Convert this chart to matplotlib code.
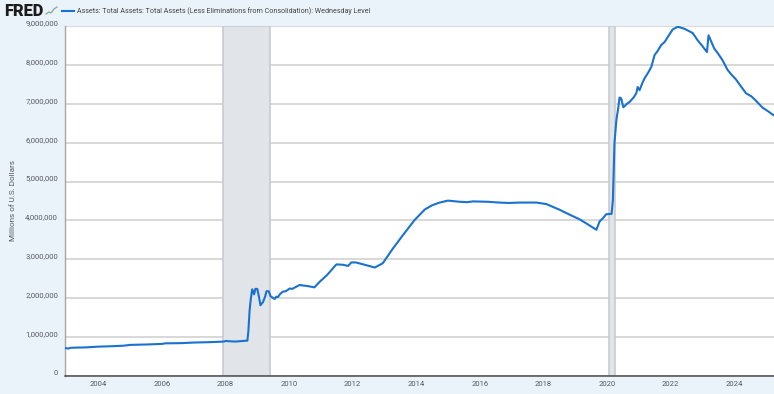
import matplotlib
matplotlib.use('Agg')
import matplotlib.pyplot as plt
from matplotlib.lines import Line2D
from matplotlib.transforms import ScaledTranslation

plt.rcParams['font.family'] = ['Roboto', 'DejaVu Sans']

title = 'Assets: Total Assets: Total Assets (Less Eliminations from Consolidation): Wednesday Level'
ylabel = 'Millions of U.S. Dollars'

# decimal years
years = [2002.96, 2003.05, 2003.12, 2003.3, 2003.6, 2004.0, 2004.4, 2004.8, 2005.0, 2005.5, 2006.0, 2006.1,
         2006.6, 2007.0, 2007.5, 2007.95, 2008.0, 2008.3, 2008.69, 2008.72, 2008.76, 2008.8, 2008.84, 2008.9,
         2008.94, 2009.0, 2009.05, 2009.1, 2009.18, 2009.25, 2009.29, 2009.36, 2009.42, 2009.55, 2009.6, 2009.65,
         2009.72, 2009.81, 2009.9, 2010.02, 2010.1, 2010.33, 2010.6, 2010.8, 2010.96, 2011.2, 2011.49, 2011.7,
         2011.86, 2011.96, 2012.1, 2012.38, 2012.7, 2012.95, 2013.27, 2013.6, 2013.95, 2014.27, 2014.5, 2014.74,
         2015.0, 2015.37, 2015.6, 2015.79, 2016.26, 2016.6, 2016.94, 2017.26, 2017.78, 2018.1, 2018.5, 2018.8,
         2019.14, 2019.4, 2019.67, 2019.77, 2019.88, 2019.98, 2020.15, 2020.19, 2020.24, 2020.3, 2020.36, 2020.4,
         2020.45, 2020.52, 2020.62, 2020.72, 2020.85, 2020.93, 2020.97, 2021.03, 2021.12, 2021.19, 2021.3, 2021.4,
         2021.5, 2021.6, 2021.71, 2021.82, 2021.92, 2022.07, 2022.23, 2022.44, 2022.7, 2022.86, 2023.0, 2023.15,
         2023.2, 2023.38, 2023.5, 2023.64, 2023.8, 2023.92, 2024.06, 2024.2, 2024.38, 2024.55, 2024.69, 2024.9,
         2025.05, 2025.24]
assets = [720000, 705000, 725000, 730000, 735000, 755000, 765000, 780000, 800000, 810000, 825000, 840000,
          845000, 860000, 870000, 885000, 900000, 885000, 910000, 1150000, 1700000, 2000000, 2230000, 2100000,
          2240000, 2240000, 2050000, 1820000, 1900000, 2050000, 2180000, 2180000, 2050000, 1980000, 2040000, 2030000,
          2110000, 2170000, 2180000, 2250000, 2240000, 2340000, 2310000, 2280000, 2420000, 2600000, 2870000, 2860000,
          2830000, 2920000, 2920000, 2860000, 2790000, 2900000, 3280000, 3640000, 4010000, 4280000, 4390000, 4460000,
          4510000, 4480000, 4470000, 4490000, 4480000, 4460000, 4450000, 4460000, 4460000, 4420000, 4280000, 4160000,
          4030000, 3900000, 3760000, 3970000, 4060000, 4160000, 4170000, 4520000, 5990000, 6580000, 6900000, 7160000,
          7140000, 6910000, 6990000, 7050000, 7170000, 7280000, 7430000, 7350000, 7540000, 7660000, 7800000, 7950000,
          8250000, 8360000, 8510000, 8590000, 8720000, 8910000, 8980000, 8930000, 8820000, 8630000, 8490000, 8330000,
          8760000, 8420000, 8290000, 8120000, 7870000, 7750000, 7630000, 7470000, 7270000, 7190000, 7080000, 6900000,
          6820000, 6710000]

recessions = [(2007.93, 2009.41), (2020.08, 2020.25)]
year_ticks = [2004, 2006, 2008, 2010, 2012, 2014, 2016, 2018, 2020, 2022, 2024]
value_ticks = [0, 1000000, 2000000, 3000000, 4000000, 5000000, 6000000, 7000000, 8000000, 9000000]

BLUE = '#1a72d0'
BG = '#eaf2fa'
TXT = '#55595e'

fig = plt.figure(figsize=(7.74, 3.94), dpi=100, facecolor=BG)
ax = fig.add_axes([65 / 774, 1 - 376 / 394, (774 - 65) / 774, 350 / 394])

for start, end in recessions:
    ax.axvspan(start, end, facecolor='#e1e5ea', edgecolor='#c8ccd0', linewidth=1.2, zorder=1)

ax.plot(years, assets, color=BLUE, linewidth=1.5, zorder=3)

ax.set_xlim(2002.95, 2025.26)
ax.set_ylim(0, 9000000)
ax.set_xticks(year_ticks)
ax.set_yticks(value_ticks)
ax.set_yticklabels([f'{v:,}' for v in value_ticks])
ax.grid(axis='y', color='#d6d6d6', linewidth=1.3, zorder=0)
ax.set_axisbelow(True)
ax.tick_params(axis='both', length=0, labelsize=5.5, labelcolor=TXT)
ax.tick_params(axis='x', pad=3.5)
ax.tick_params(axis='y', pad=5)
# FRED puts the y labels a little above their gridlines
shift = ScaledTranslation(0, 3.5 / 100, fig.dpi_scale_trans)
for lab in ax.get_yticklabels():
    lab.set_transform(lab.get_transform() + shift)

for side in ['top', 'right']:
    ax.spines[side].set_visible(False)
ax.spines['left'].set_color('#a8a8a8')
ax.spines['left'].set_linewidth(1.0)
ax.spines['bottom'].set_color('#4a4a4a')
ax.spines['bottom'].set_linewidth(1.1)

fig.text(13 / 774, 1 - 200 / 394, ylabel, rotation=90, ha='center', va='center', fontsize=5.9, color=TXT)

# header: logo and legend
fig.text(4 / 774, 1 - 10.5 / 394, 'FRED', ha='left', va='center', fontsize=11.8, fontweight='black', color='#1c1c1c')
logo_x = [46, 49, 51, 54, 57]
logo_y = [14, 12, 13, 9, 7]
fig.add_artist(Line2D([x / 774 for x in logo_x], [1 - y / 394 for y in logo_y], color='#8fae9c', linewidth=1.0))
fig.add_artist(Line2D([62 / 774, 74 / 774], [1 - 11 / 394, 1 - 11 / 394], color=BLUE, linewidth=1.5))
fig.text(77 / 774, 1 - 11 / 394, title, ha='left', va='center', fontsize=5.15, color='#444444')

fig.savefig('out.png', dpi=100, facecolor=BG)
